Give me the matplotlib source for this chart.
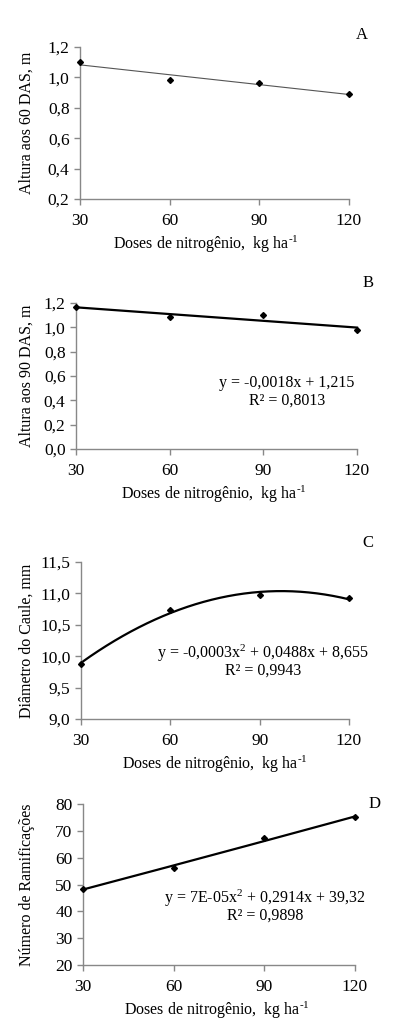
import numpy as np
import matplotlib.pyplot as plt

plt.rcParams['font.family'] = ['Liberation Serif', 'DejaVu Serif']
plt.rcParams['mathtext.fontset'] = 'custom'
plt.rcParams['mathtext.rm'] = 'Liberation Serif'
plt.rcParams['mathtext.it'] = 'Liberation Serif'

doses = [30, 60, 90, 120]
altura60 = [1.10, 0.985, 0.965, 0.89]
altura90 = [1.165, 1.085, 1.10, 0.975]
diametro = [9.88, 10.73, 10.98, 10.92]
ramificacoes = [48.5, 56.0, 67.3, 75.0]

xlab = r"Doses de nitrogênio,  kg ha$^{\text{-1}}$"

# (rect, ylabel, values, ylim, yticks, fmt, letter, degree, line style, equation)
panels = [
    ([80, 47, 349, 199], "Altura aos 60 DAS, m", altura60, (0.2, 1.2),
     np.arange(0.2, 1.21, 0.2), "{:.1f}", "A", 1, ("#555555", 0.8), None),
    ([76, 303, 357, 449], "Altura aos 90 DAS, m", altura90, (0.0, 1.2),
     np.arange(0.0, 1.21, 0.2), "{:.1f}", "B", 1, ("black", 1.6),
     ("y = -0,0018x + 1,215", "R² = 0,8013", 287, 383)),
    ([81, 562, 349, 719], "Diâmetro do Caule, mm", diametro, (9.0, 11.5),
     np.arange(9.0, 11.51, 0.5), "{:.1f}", "C", 2, ("black", 1.6),
     ("y = -0,0003x$^2$ + 0,0488x + 8,655", "R² = 0,9943", 263, 653)),
    ([83, 804, 355, 965], "Número de Ramificações", ramificacoes, (20, 80),
     np.arange(20, 81, 10), "{:.0f}", "D", 2, ("black", 1.6),
     ("y = 7E-05x$^2$ + 0,2914x + 39,32", "R² = 0,9898", 265, 898)),
]
letter_pos = {"A": (362, 35), "B": (368, 283), "C": (368, 543), "D": (375, 804)}
xlab_x = {"A": 206, "B": 214, "C": 215, "D": 217}

W, H = 393, 1022
fig = plt.figure(figsize=(W / 100, H / 100), dpi=100)

for rect, ylab, vals, ylim, yt, fmt, letter, deg, (lc, lw), eq in panels:
    l, t, r, b = rect
    ax = fig.add_axes([l / W, 1 - b / H, (r - l) / W, (b - t) / H])
    coef = np.polyfit(doses, vals, deg)
    xs = np.linspace(30, 120, 200)
    ax.plot(xs, np.polyval(coef, xs), color=lc, lw=lw, clip_on=False)
    ax.plot(doses, vals, 'D', color='black', ms=3, clip_on=False, zorder=5)
    ax.set_xlim(30, 120)
    ax.set_ylim(*ylim)
    ax.set_xticks(doses)
    ax.set_yticks(yt)
    ax.set_yticklabels([fmt.format(v).replace('.', ',') for v in yt])
    for s in ['top', 'right']:
        ax.spines[s].set_visible(False)
    for s in ['left', 'bottom']:
        ax.spines[s].set_color('#888888')
        ax.spines[s].set_linewidth(1.0)
    ax.tick_params(colors='#888888', labelcolor='black', labelsize=12.5,
                   length=4, width=1.0, direction='out')
    ax.tick_params(axis='x', pad=6)
    fig.text(27 / W, 1 - (t + b) / 2 / H, ylab, rotation=90,
             ha='center', va='center', fontsize=11.5)
    fig.text(xlab_x[letter] / W, 1 - (b + 45) / H, xlab,
             ha='center', va='center', fontsize=11.5)
    lx, ly = letter_pos[letter]
    fig.text(lx / W, 1 - ly / H, letter, ha='center', va='center', fontsize=12)
    if eq is not None:
        e1, e2, ex, ey = eq
        fig.text(ex / W, 1 - ey / H, e1, ha='center', va='center', fontsize=11.5)
        fig.text(ex / W, 1 - (ey + 18) / H, e2, ha='center', va='center',
                 fontsize=11.5)

fig.savefig("out.png", dpi=100)
